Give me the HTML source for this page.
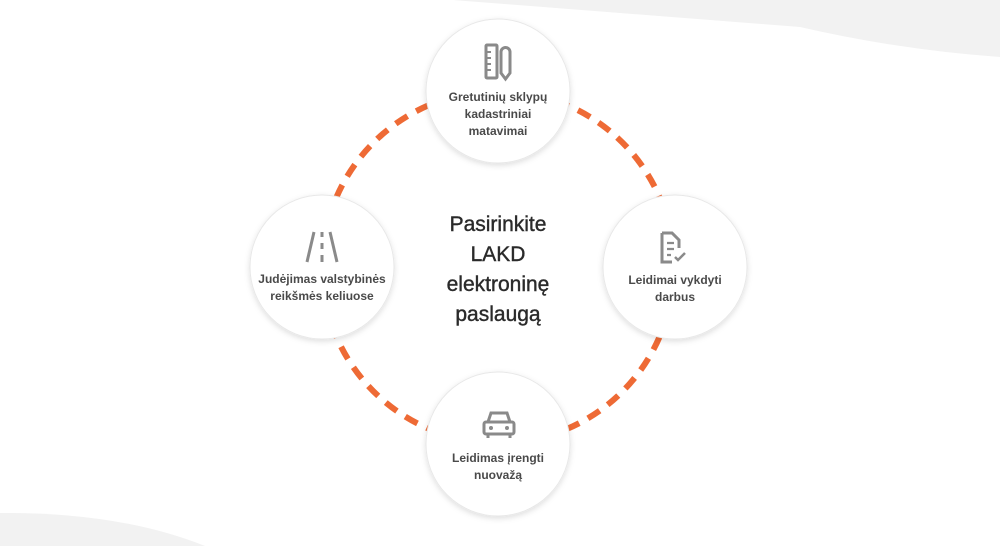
<!DOCTYPE html>
<html><head><meta charset="utf-8"><style>
html,body{margin:0;padding:0;background:#fff;}
body{width:1000px;height:546px;overflow:hidden;position:relative;font-family:"Liberation Sans",sans-serif;}
svg{position:absolute;left:0;top:0;}
</style></head><body>
<svg width="1000" height="546" viewBox="0 0 1000 546">
<defs>
<filter id="sh" x="-20%" y="-20%" width="140%" height="140%">
<feDropShadow dx="0" dy="2" stdDeviation="3" flood-color="#000" flood-opacity="0.13"/>
</filter>
</defs>
<path d="M453 0 L800 27 Q900 50 1000 57 L1000 0 Z" fill="#f2f2f2"/>
<path d="M0 513 Q120 512 205 546 L0 546 Z" fill="#f2f2f2"/>
<circle cx="498" cy="267" r="176" fill="none" stroke="#ee6a35" stroke-width="6" stroke-dasharray="14 10"/>
<g filter="url(#sh)" fill="#fff" stroke="#e8e8e8" stroke-width="1">
<circle cx="498" cy="91" r="72"/>
<circle cx="322" cy="267" r="72"/>
<circle cx="675" cy="267" r="72"/>
<circle cx="498" cy="444" r="72"/>
</g>
<g fill="none" stroke="#8a8a8a" stroke-width="3">
<rect x="486" y="45" width="11" height="33" rx="1"/>
<path d="M486 52h5M486 58h5M486 64h5M486 70h5" stroke-width="2"/>
<path d="M501 52a4.5 4.5 0 0 1 9 0v21l-4.5 6-4.5-6z"/>
<path d="M314 232l-7 30M330 232l7 30"/>
<path d="M322 232v5M322 243v6M322 255v7" stroke-width="3"/>
<path d="M662 233h10l7 7v8M662 233v29h10"/>
<path d="M667 243h7M667 249h7M667 255h4" stroke-width="2.2"/>
<path d="M675 257l3 3 7-7" stroke-width="2.5"/>
<path d="M488 422l3-9h16l3 9" />
<rect x="484" y="422" width="30" height="12" rx="2"/>
<path d="M488 434v4M510 434v4"/>
</g>
<circle cx="491" cy="428" r="2" fill="#8a8a8a"/>
<circle cx="507" cy="428" r="2" fill="#8a8a8a"/>
<g font-family="Liberation Sans, sans-serif" font-size="12" font-weight="bold" fill="#4a4a4a" text-anchor="middle">
<text x="498" y="101">Gretutinių sklypų</text>
<text x="498" y="118">kadastriniai</text>
<text x="498" y="135">matavimai</text>
<text x="322" y="283">Judėjimas valstybinės</text>
<text x="322" y="300">reikšmės keliuose</text>
<text x="675" y="284">Leidimai vykdyti</text>
<text x="675" y="301">darbus</text>
<text x="498" y="462">Leidimas įrengti</text>
<text x="498" y="479">nuovažą</text>
</g>
<g font-family="Liberation Sans, sans-serif" font-size="21" fill="#2a2a2a" text-anchor="middle" stroke="#2a2a2a" stroke-width="0.4">
<text x="498" y="231">Pasirinkite</text>
<text x="498" y="261">LAKD</text>
<text x="498" y="291">elektroninę</text>
<text x="498" y="321">paslaugą</text>
</g>
</svg>
</body></html>
